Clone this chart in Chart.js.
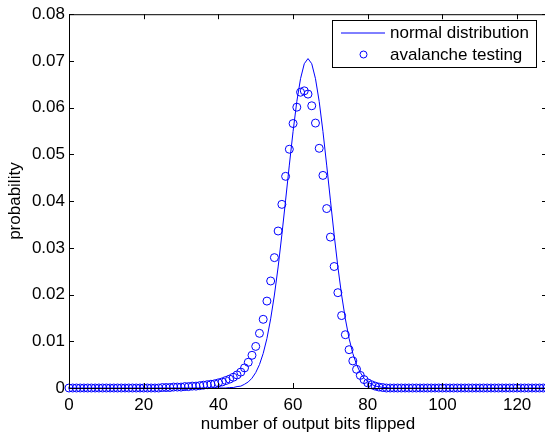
<!DOCTYPE html>
<html>
<head>
<meta charset="utf-8">
<script src="https://cdn.jsdelivr.net/npm/chart.js@4"></script>
<style>
  html, body { margin: 0; padding: 0; background: #fff; overflow: hidden; }
  canvas { display: block; }
</style>
</head>
<body>
<canvas id="avalancheChart" width="552" height="438"></canvas>
<script>
// number of output bits flipped (0..128)
const bits = [
  0, 1, 2, 3, 4, 5, 6, 7, 8, 9, 10, 11, 12, 13, 14, 15, 16, 17, 18, 19, 20, 21, 22, 23, 24,
  25, 26, 27, 28, 29, 30, 31, 32, 33, 34, 35, 36, 37, 38, 39, 40, 41, 42, 43, 44, 45, 46, 47, 48, 49,
  50, 51, 52, 53, 54, 55, 56, 57, 58, 59, 60, 61, 62, 63, 64, 65, 66, 67, 68, 69, 70, 71, 72, 73, 74,
  75, 76, 77, 78, 79, 80, 81, 82, 83, 84, 85, 86, 87, 88, 89, 90, 91, 92, 93, 94, 95, 96, 97, 98, 99,
  100, 101, 102, 103, 104, 105, 106, 107, 108, 109, 110, 111, 112, 113, 114, 115, 116, 117, 118, 119,
  120, 121, 122, 123, 124, 125, 126, 127, 128
];

// solid line
const normalDist = [
  0, 0, 0, 0, 0, 0, 0, 0, 0, 0, 0, 0, 0, 0, 0, 0, 0, 0, 0, 0, 0, 0, 0, 0, 0,
  0, 0, 0, 0, 0, 0, 0, 0, 0, 0, 0, 0, 0, 0, 0, 0, 0, 0,
  0.0001, 0.0001, 0.0003, 0.0004, 0.0008, 0.0013, 0.0021, 0.0033, 0.0050, 0.0074,
  0.0106, 0.0148, 0.0199, 0.0259, 0.0328, 0.0402, 0.0477, 0.0549, 0.0613, 0.0662,
  0.0694, 0.0705, 0.0694, 0.0662, 0.0613, 0.0549, 0.0477, 0.0402, 0.0328, 0.0259,
  0.0199, 0.0148, 0.0106, 0.0074, 0.0050, 0.0033, 0.0021, 0.0013, 0.0008, 0.0004,
  0.0003, 0.0001, 0.0001,
  0, 0, 0, 0, 0, 0, 0, 0, 0, 0, 0, 0, 0, 0, 0, 0, 0, 0, 0, 0, 0, 0,
  0, 0, 0, 0, 0, 0, 0, 0, 0, 0, 0, 0, 0, 0, 0, 0, 0, 0, 0, 0, 0
];

// circles
const avalanche = [
  0, 0, 0, 0, 0, 0, 0, 0, 0, 0, 0, 0, 0, 0, 0, 0, 0, 0, 0, 0, 0, 0, 0, 0, 0,
  0.0001, 0.0001, 0.0001, 0.0002, 0.0002, 0.0002, 0.0003, 0.0003, 0.0004, 0.0004,
  0.0005, 0.0006, 0.0007, 0.0008, 0.0009, 0.0011, 0.0013, 0.0016, 0.0019, 0.0023,
  0.0028, 0.0034, 0.0043, 0.0055, 0.0070, 0.0089, 0.0117, 0.0147, 0.0186, 0.0229,
  0.0279, 0.0336, 0.0393, 0.0453, 0.0511, 0.0566, 0.0601, 0.0633, 0.0636, 0.0629,
  0.0604, 0.0567, 0.0513, 0.0455, 0.0384, 0.0323, 0.0260, 0.0204, 0.0155, 0.0114,
  0.0082, 0.0058, 0.0040, 0.0027, 0.0018, 0.0011, 0.0007, 0.0004, 0.0002, 0.0001,
  0, 0, 0, 0, 0, 0, 0, 0, 0, 0, 0, 0, 0, 0, 0, 0, 0, 0, 0, 0, 0, 0,
  0, 0, 0, 0, 0, 0, 0, 0, 0, 0, 0, 0, 0, 0, 0, 0, 0, 0, 0, 0, 0, 0
];

const xTicks = [0, 20, 40, 60, 80, 100, 120];
const yTicks = [0, 0.01, 0.02, 0.03, 0.04, 0.05, 0.06, 0.07, 0.08];
const seriesNames = ["normal distribution", "avalanche testing"];

const FONT = "Liberation Sans";
const FSIZE = 17;
const BLUE = "#0000ff";

// matlab-ish box, inward ticks and legend
const matlabFrame = {
  id: "matlabFrame",
  afterDraw(chart) {
    const ctx = chart.ctx;
    const { left, right, top, bottom } = chart.chartArea;
    const xs = chart.scales.x, ys = chart.scales.y;
    ctx.save();
    ctx.strokeStyle = "#000";
    ctx.lineWidth = 1;
    ctx.strokeRect(left + 0.5, top + 0.5, right - left, bottom - top);

    ctx.beginPath();
    xTicks.forEach(v => {
      const px = Math.round(xs.getPixelForValue(v)) + 0.5;
      ctx.moveTo(px, bottom); ctx.lineTo(px, bottom - 5);
      ctx.moveTo(px, top); ctx.lineTo(px, top + 5);
    });
    yTicks.forEach(v => {
      const py = Math.round(ys.getPixelForValue(v)) + 0.5;
      ctx.moveTo(left, py); ctx.lineTo(left + 5, py);
      ctx.moveTo(right, py); ctx.lineTo(right - 5, py);
    });
    ctx.stroke();

    // legend
    ctx.fillStyle = "#fff";
    ctx.fillRect(332, 20, 205, 47);
    ctx.strokeRect(332.5, 20.5, 204, 47);
    ctx.strokeStyle = BLUE;
    ctx.beginPath();
    ctx.moveTo(341, 33); ctx.lineTo(385, 33);
    ctx.stroke();
    ctx.beginPath();
    ctx.arc(363.5, 54.5, 3.5, 0, Math.PI * 2);
    ctx.stroke();
    ctx.fillStyle = "#000";
    ctx.font = FSIZE + "px '" + FONT + "'";
    ctx.textBaseline = "middle";
    ctx.textAlign = "left";
    ctx.fillText(seriesNames[0], 390, 33);
    ctx.fillText(seriesNames[1], 390, 55);
    ctx.restore();
  }
};

new Chart(document.getElementById("avalancheChart"), {
  type: "scatter",
  data: {
    datasets: [
      {
        label: seriesNames[0],
        data: bits.map((b, i) => ({ x: b, y: normalDist[i] })),
        showLine: true,
        borderColor: BLUE,
        borderWidth: 1,
        pointRadius: 0,
        tension: 0
      },
      {
        label: seriesNames[1],
        data: bits.map((b, i) => ({ x: b, y: avalanche[i] })),
        showLine: false,
        pointStyle: "circle",
        pointRadius: 4,
        borderColor: BLUE,
        pointBorderWidth: 1,
        backgroundColor: "rgba(0,0,0,0)",
        clip: false
      }
    ]
  },
  options: {
    responsive: false,
    animation: false,
    layout: { padding: { top: 12, right: 5, left: 0, bottom: 0 } },
    plugins: { legend: { display: false }, tooltip: { enabled: false } },
    scales: {
      x: {
        type: "linear",
        min: 0,
        max: 128,
        grid: { display: false, drawTicks: false },
        border: { display: false },
        afterBuildTicks: s => { s.ticks = xTicks.map(v => ({ value: v })); },
        afterFit: s => { s.height = 50; },
        ticks: { color: "#000", padding: 7, maxRotation: 0, font: { family: FONT, size: FSIZE } },
        title: {
          display: true,
          text: "number of output bits flipped",
          color: "#000",
          padding: { top: 0, bottom: 3 },
          font: { family: FONT, size: FSIZE }
        }
      },
      y: {
        min: 0,
        max: 0.08,
        grid: { display: false, drawTicks: false },
        border: { display: false },
        afterBuildTicks: s => { s.ticks = yTicks.map(v => ({ value: v })); },
        afterFit: s => { s.width = 69; },
        ticks: {
          color: "#000",
          padding: 4,
          font: { family: FONT, size: FSIZE },
          callback: v => (v === 0 ? "0" : v.toFixed(2))
        },
        title: {
          display: true,
          text: "probability",
          color: "#000",
          padding: { top: 5, bottom: 0 },
          font: { family: FONT, size: FSIZE }
        }
      }
    }
  },
  plugins: [matlabFrame]
});
</script>
</body>
</html>
